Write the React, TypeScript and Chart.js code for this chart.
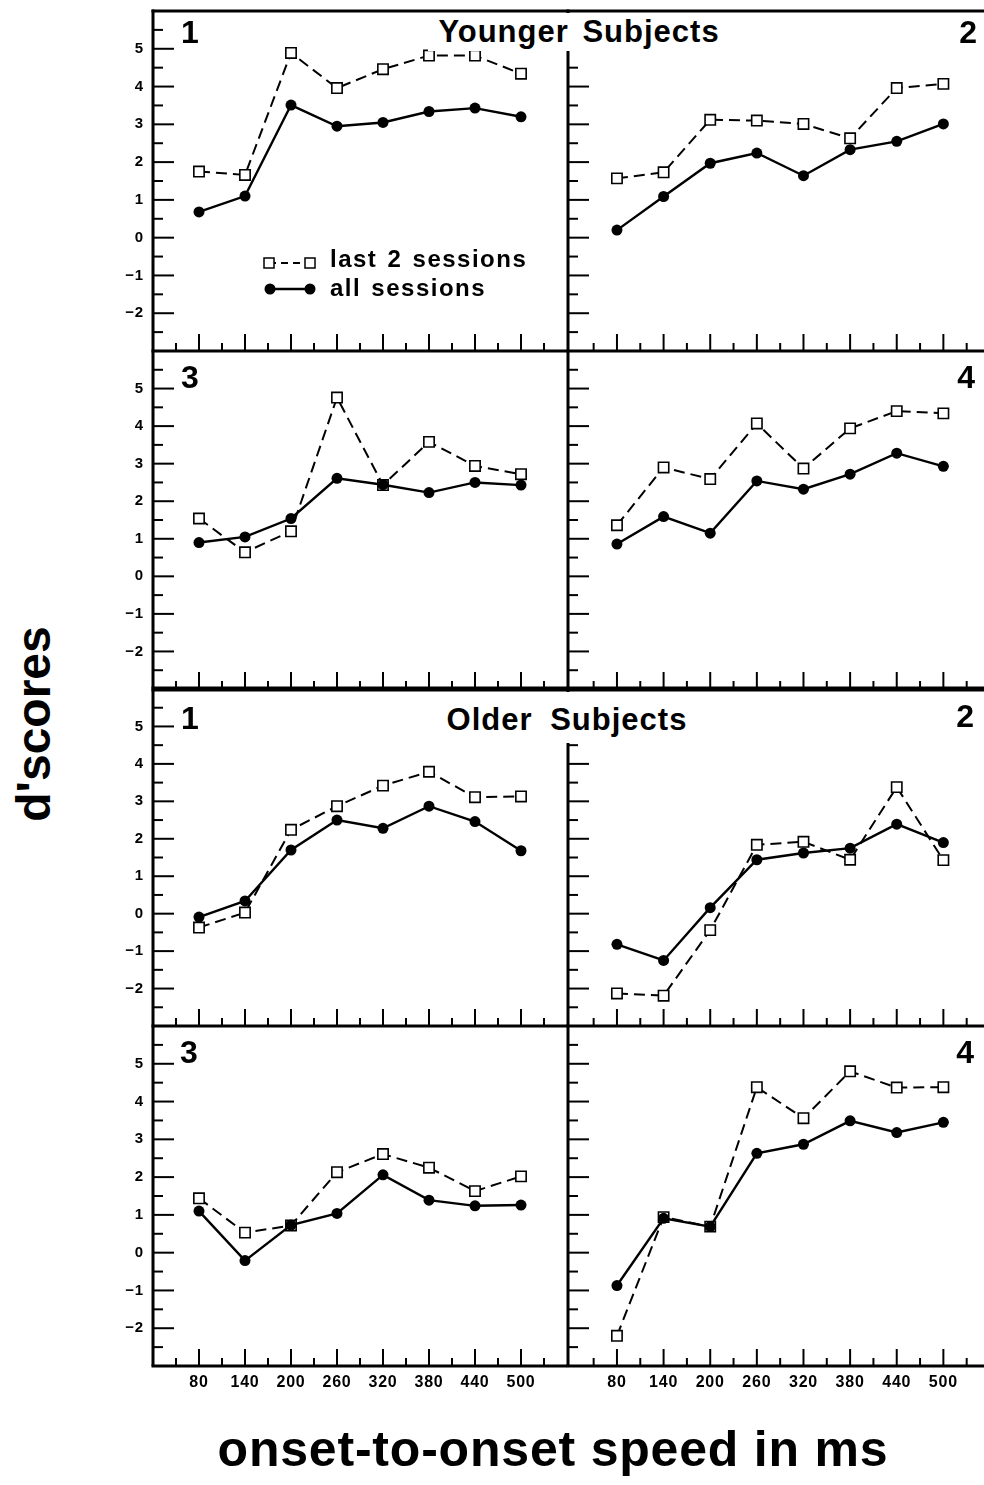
import React, { useEffect, useRef } from 'react';
import { Chart, registerables } from 'chart.js';

Chart.register(...registerables);

// ---------------- data ----------------
const SPEEDS = [80, 140, 200, 260, 320, 380, 440, 500];
const Y_TICKS = [-2, -1, 0, 1, 2, 3, 4, 5];

const YOUNGER_1_LAST2 = [1.75, 1.66, 4.89, 3.96, 4.46, 4.82, 4.82, 4.34];
const YOUNGER_1_ALL = [0.68, 1.1, 3.51, 2.95, 3.05, 3.34, 3.43, 3.2];
const YOUNGER_2_LAST2 = [1.57, 1.73, 3.12, 3.1, 3.01, 2.63, 3.96, 4.07];
const YOUNGER_2_ALL = [0.2, 1.09, 1.97, 2.24, 1.64, 2.33, 2.55, 3.01];
const YOUNGER_3_LAST2 = [1.54, 0.64, 1.2, 4.76, 2.43, 3.58, 2.94, 2.72];
const YOUNGER_3_ALL = [0.9, 1.05, 1.54, 2.61, 2.44, 2.23, 2.5, 2.43];
const YOUNGER_4_LAST2 = [1.36, 2.9, 2.59, 4.07, 2.87, 3.94, 4.4, 4.34];
const YOUNGER_4_ALL = [0.86, 1.59, 1.15, 2.54, 2.32, 2.72, 3.28, 2.93];
const OLDER_1_LAST2 = [-0.37, 0.03, 2.24, 2.87, 3.42, 3.79, 3.11, 3.13];
const OLDER_1_ALL = [-0.09, 0.34, 1.7, 2.5, 2.28, 2.87, 2.46, 1.68];
const OLDER_2_LAST2 = [-2.13, -2.19, -0.44, 1.84, 1.92, 1.44, 3.38, 1.43];
const OLDER_2_ALL = [-0.82, -1.25, 0.16, 1.44, 1.62, 1.75, 2.39, 1.9];
const OLDER_3_LAST2 = [1.44, 0.53, 0.72, 2.13, 2.61, 2.25, 1.63, 2.02];
const OLDER_3_ALL = [1.1, -0.21, 0.73, 1.04, 2.06, 1.39, 1.24, 1.26];
const OLDER_4_LAST2 = [-2.2, 0.94, 0.69, 4.38, 3.56, 4.8, 4.37, 4.38];
const OLDER_4_ALL = [-0.87, 0.91, 0.69, 2.63, 2.87, 3.49, 3.18, 3.45];

const LEGEND_LAST2 = 'last 2 sessions';
const LEGEND_ALL = 'all sessions';
const TITLE_YOUNGER = 'Younger Subjects';
const TITLE_OLDER = 'Older Subjects';
const Y_TITLE = "d'scores";
const X_TITLE = 'onset-to-onset speed in ms';

// ---------------- layout ----------------
const FONT = '"Liberation Sans", Arial, Helvetica, sans-serif';
const COLS = [
  { left: 153, right: 567, xMin: 20, xMax: 560 },
  { left: 568, right: 990, xMin: 17, xMax: 560 },
];
const ROWS = [
  { top: 11, bottom: 351 },
  { top: 351, bottom: 689 },
  { top: 689, bottom: 1026 },
  { top: 1026, bottom: 1366 },
];

const PANELS = [
  { col: 0, row: 0, num: '1', last2: YOUNGER_1_LAST2, all: YOUNGER_1_ALL, legend: true },
  { col: 1, row: 0, num: '2', last2: YOUNGER_2_LAST2, all: YOUNGER_2_ALL },
  { col: 0, row: 1, num: '3', last2: YOUNGER_3_LAST2, all: YOUNGER_3_ALL },
  { col: 1, row: 1, num: '4', last2: YOUNGER_4_LAST2, all: YOUNGER_4_ALL },
  { col: 0, row: 2, num: '1', last2: OLDER_1_LAST2, all: OLDER_1_ALL },
  { col: 1, row: 2, num: '2', last2: OLDER_2_LAST2, all: OLDER_2_ALL },
  { col: 0, row: 3, num: '3', last2: OLDER_3_LAST2, all: OLDER_3_ALL },
  { col: 1, row: 3, num: '4', last2: OLDER_4_LAST2, all: OLDER_4_ALL },
];

const framePlugin = {
  id: 'frame',
  beforeDraw(chart: any) {
    (chart.ctx as any).letterSpacing = '0.8px';
  },
  beforeDatasetsDraw(chart: any, _args: any, opts: any) {
    const { ctx, chartArea: a, scales } = chart;
    const xs = scales.x;
    const ys = scales.y;
    const seg = (x1: number, y1: number, x2: number, y2: number) => {
      ctx.beginPath();
      ctx.moveTo(x1, y1);
      ctx.lineTo(x2, y2);
      ctx.stroke();
    };
    ctx.save();
    ctx.strokeStyle = '#000';
    ctx.lineCap = 'butt';
    ctx.setLineDash([]);
    // frame lines
    ctx.lineWidth = 3;
    seg(a.left, a.top - (opts.topLine ? 1.5 : 0), a.left, a.bottom);
    if (opts.topLine) seg(a.left - 1.5, a.top, a.right, a.top);
    ctx.lineWidth = opts.bottomWidth;
    seg(a.left - 1.5, a.bottom, a.right, a.bottom);
    // inward y ticks (every 0.5)
    ctx.lineWidth = 2;
    for (let v = -2.5; v <= 5.5; v += 0.5) {
      const py = ys.getPixelForValue(v);
      const len = Number.isInteger(v) ? 21 : 10;
      seg(a.left, py, a.left + len, py);
    }
    // inward x ticks (every 30 ms)
    for (let v = 50; v <= 530; v += 30) {
      const px = xs.getPixelForValue(v);
      const major = (v - 80) % 60 === 0;
      seg(px, a.bottom, px, a.bottom - (major ? 17 : 8));
    }
    ctx.restore();
  },
  afterDatasetsDraw(chart: any, _args: any, opts: any) {
    if (!opts.legend) return;
    const { ctx } = chart;
    const ox = opts.offX;
    const oy = opts.offY;
    ctx.save();
    ctx.strokeStyle = '#000';
    // dashed sample with open squares
    ctx.lineWidth = 2;
    ctx.setLineDash([7, 5]);
    ctx.beginPath();
    ctx.moveTo(269 - ox, 263 - oy);
    ctx.lineTo(310 - ox, 263 - oy);
    ctx.stroke();
    ctx.setLineDash([]);
    ctx.lineWidth = 1.5;
    ctx.fillStyle = '#fff';
    [269, 310].forEach((px) => {
      ctx.fillRect(px - ox - 5, 263 - oy - 5, 10, 10);
      ctx.strokeRect(px - ox - 5, 263 - oy - 5, 10, 10);
    });
    // solid sample with filled circles
    ctx.lineWidth = 2.4;
    ctx.beginPath();
    ctx.moveTo(270 - ox, 289 - oy);
    ctx.lineTo(310 - ox, 289 - oy);
    ctx.stroke();
    ctx.fillStyle = '#000';
    [270, 310].forEach((px) => {
      ctx.beginPath();
      ctx.arc(px - ox, 289 - oy, 5.5, 0, Math.PI * 2);
      ctx.fill();
    });
    ctx.restore();
  },
};

const zeroPad = (s: any) => {
  s.paddingTop = 0;
  s.paddingBottom = 0;
  s.paddingLeft = 0;
  s.paddingRight = 0;
};

function Panel({ col, row, last2, all, legend }: any) {
  const ref = useRef<HTMLCanvasElement>(null);
  const c = COLS[col];
  const r = ROWS[row];
  const yW = col === 0 ? 50 : 0;
  const xH = row === 3 ? 40 : 0;
  const pad = { top: 4, right: 4, left: col === 0 ? 0 : 4, bottom: row === 3 ? 0 : 4 };
  const width = pad.left + yW + (c.right - c.left) + pad.right;
  const height = pad.top + (r.bottom - r.top) + xH + pad.bottom;
  const left = c.left - yW - pad.left;
  const top = r.top - pad.top;

  useEffect(() => {
    const canvas = ref.current;
    if (!canvas) return;
    const chart = new Chart(canvas, {
      type: 'line',
      data: {
        datasets: [
          {
            label: LEGEND_ALL,
            data: SPEEDS.map((s, i) => ({ x: s, y: all[i] })),
            borderColor: '#000',
            borderWidth: 2.4,
            pointStyle: 'circle',
            pointRadius: 5.5,
            pointBackgroundColor: '#000',
            pointBorderColor: '#000',
            pointBorderWidth: 0,
            tension: 0,
            clip: false,
          } as any,
          {
            label: LEGEND_LAST2,
            data: SPEEDS.map((s, i) => ({ x: s, y: last2[i] })),
            borderColor: '#000',
            borderWidth: 2,
            borderDash: [11, 6],
            pointStyle: 'rect',
            pointRadius: 7.3,
            pointBackgroundColor: '#fff',
            pointBorderColor: '#000',
            pointBorderWidth: 1.6,
            tension: 0,
            clip: false,
          } as any,
        ],
      },
      options: {
        responsive: false,
        animation: false,
        events: [],
        layout: { padding: pad, autoPadding: false },
        scales: {
          x: {
            type: 'linear',
            min: c.xMin,
            max: c.xMax,
            grid: { display: false, drawTicks: false },
            border: { display: false },
            afterBuildTicks: (s: any) => {
              s.ticks = SPEEDS.map((v) => ({ value: v }));
            },
            afterFit: (s: any) => {
              s.height = xH;
              zeroPad(s);
            },
            ticks: {
              display: row === 3,
              color: '#000',
              padding: 7,
              font: { family: FONT, size: 16, weight: 'bold' },
              maxRotation: 0,
              autoSkip: false,
              callback: (v: any) => String(v),
            },
          },
          y: {
            type: 'linear',
            min: -3,
            max: 6,
            grid: { display: false, drawTicks: false },
            border: { display: false },
            afterBuildTicks: (s: any) => {
              s.ticks = Y_TICKS.map((v) => ({ value: v }));
            },
            afterFit: (s: any) => {
              s.width = yW;
              zeroPad(s);
            },
            ticks: {
              display: col === 0,
              color: '#000',
              padding: 9,
              font: { family: FONT, size: 15, weight: 'bold' },
              autoSkip: false,
              callback: (v: any) => (v < 0 ? '\u2212' + Math.abs(v) : String(v)),
            },
          },
        },
        plugins: {
          legend: { display: false },
          tooltip: { enabled: false },
          frame: {
            topLine: row === 0,
            bottomWidth: row === 1 ? 5 : 3,
            legend: !!legend,
            offX: left,
            offY: top,
          },
        } as any,
      } as any,
      plugins: [framePlugin as any],
    });
    return () => chart.destroy();
  }, []);

  return (
    <canvas
      ref={ref}
      width={width}
      height={height}
      style={{ position: 'absolute', left, top, width, height }}
    />
  );
}

function Txt({ x, baseline, size, text, align = 'left', ls = 0, ws = 0 }: any) {
  const style: any = {
    position: 'absolute',
    top: baseline - 0.8465 * size,
    fontFamily: FONT,
    fontWeight: 'bold',
    fontSize: size,
    lineHeight: size + 'px',
    whiteSpace: 'nowrap',
    letterSpacing: ls,
    wordSpacing: ws,
    color: '#000',
  };
  if (align === 'left') style.left = x;
  else if (align === 'right') style.right = 984 - x;
  else {
    style.left = x;
    style.transform = 'translateX(-50%)';
  }
  return <div style={style}>{text}</div>;
}

const NUM_POS = [
  { x: 181, baseline: 43, align: 'left' },
  { x: 977, baseline: 43, align: 'right' },
  { x: 181, baseline: 388, align: 'left' },
  { x: 975, baseline: 388, align: 'right' },
  { x: 181, baseline: 729, align: 'left' },
  { x: 974, baseline: 727, align: 'right' },
  { x: 180, baseline: 1063, align: 'left' },
  { x: 974, baseline: 1063, align: 'right' },
];

export default function App() {
  return (
    <div
      style={{
        position: 'absolute',
        left: 0,
        top: 0,
        width: 984,
        height: 1485,
        overflow: 'hidden',
        background: '#fff',
      }}
    >
      {PANELS.map((p, i) => (
        <Panel key={i} {...p} />
      ))}
      {/* title boxes interrupt the middle divider */}
      <div style={{ position: 'absolute', left: 428, top: 13, width: 302, height: 38, background: '#fff' }} />
      <div style={{ position: 'absolute', left: 436, top: 692, width: 262, height: 51, background: '#fff' }} />
      <Txt x={579} baseline={42} size={31} text={TITLE_YOUNGER} align="center" ls={1} ws={4} />
      <Txt x={567} baseline={730} size={31} text={TITLE_OLDER} align="center" ls={1} ws={8} />
      {PANELS.map((p, i) => (
        <Txt key={'n' + i} x={NUM_POS[i].x} baseline={NUM_POS[i].baseline} size={32} text={p.num} align={NUM_POS[i].align} />
      ))}
      <Txt x={330} baseline={267} size={24} text={LEGEND_LAST2} ls={1.5} ws={2} />
      <Txt x={330} baseline={296} size={24} text={LEGEND_ALL} ls={1.5} ws={2} />
      <div
        style={{
          position: 'absolute',
          left: 34,
          top: 724,
          transform: 'translate(-50%, -50%) rotate(-90deg)',
          fontFamily: FONT,
          fontWeight: 'bold',
          fontSize: 48,
          lineHeight: '48px',
          whiteSpace: 'nowrap',
          color: '#000',
        }}
      >
        {Y_TITLE}
      </div>
      <Txt x={553} baseline={1466} size={50} text={X_TITLE} align="center" ls={0.8} />
    </div>
  );
}
